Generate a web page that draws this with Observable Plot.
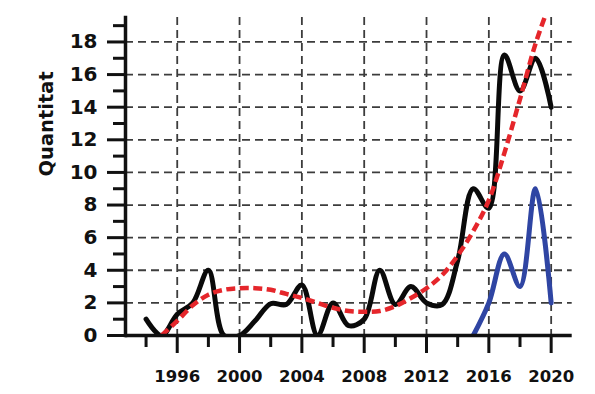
<!DOCTYPE html>
<html>
<head>
<meta charset="utf-8">
<script src="https://cdn.jsdelivr.net/npm/d3@7"></script>
<script src="https://cdn.jsdelivr.net/npm/@observablehq/plot@0.6"></script>
<style>
  html, body { margin: 0; padding: 0; background: #fff; }
  #chart { width: 595px; height: 394px; }
</style>
</head>
<body>
<div id="chart"></div>
<script>
// Total per year (black line)
const years = [1994,1995,1996,1997,1998,1999,2000,2001,2002,2003,2004,2005,2006,2007,2008,2009,2010,2011,2012,2013,2014,2015,2016,2017,2018,2019,2020];
const totalValues = [1,0,1.3,2,4,0,0,0.9,1.95,1.9,3.1,0,2,0.6,1,4,1.9,3,2,1.9,4.6,9,7.8,17.2,15,17,14];

// Second series (blue line)
const blueYears = [2015,2016,2017,2018,2019,2020];
const blueValues = [0,2,5,3,9,2];

// Trend (red dashed line)
const trendYears = [1995,1996,1997,1998,1999,2000,2001,2002,2003,2004,2005,2006,2007,2008,2009,2010,2011,2012,2013,2014,2015,2016,2017,2018,2019,2020];
const trendValues = [0,0.9,1.85,2.5,2.8,2.9,2.9,2.8,2.55,2.3,2.0,1.7,1.5,1.45,1.5,1.8,2.3,2.9,3.7,4.9,6.4,8.3,11.2,14.5,17.9,20.6];

// Ticks
const xMajor = [1996,2000,2004,2008,2012,2016,2020];
const xMinor = [1994,1998,2002,2006,2010,2014,2018];
const yMajor = [0,2,4,6,8,10,12,14,16,18];
const yMinor = [1,3,5,7,9,11,13,15,17,19];
const yLabel = "Quantitat";

const total = years.map((y, i) => ({year: y, value: totalValues[i]}));
const blue = blueYears.map((y, i) => ({year: y, value: blueValues[i]}));
const trend = trendYears.map((y, i) => ({year: y, value: trendValues[i]}));

const grid = {stroke: "#3c3c3c", strokeWidth: 1.8, strokeDasharray: "8,5"};

const chart = Plot.plot({
  width: 595,
  height: 394,
  marginLeft: 125,
  marginRight: 23.3,
  marginTop: 17,
  marginBottom: 59,
  style: {fontFamily: "DejaVu Sans", color: "#111", background: "#fff"},
  x: {domain: [1992.68, 2021.35]},
  y: {domain: [0, 19.5]},
  marks: [
    Plot.ruleY(yMajor.filter(d => d > 0), grid),
    Plot.ruleX(xMajor, grid),
    Plot.line(total, {x: "year", y: "value", curve: "catmull-rom", stroke: "#0a0a0a", strokeWidth: 5, clip: true}),
    Plot.line(blue, {x: "year", y: "value", curve: "catmull-rom", stroke: "#2f45a3", strokeWidth: 5, clip: true}),
    Plot.line(trend, {x: "year", y: "value", curve: "catmull-rom", stroke: "#e5262b", strokeWidth: 4.5, strokeDasharray: "9,4.5", strokeLinecap: "butt", clip: true}),
    Plot.axisY({ticks: yMinor, tickSize: 12, text: null, label: null, strokeWidth: 3, stroke: "#111"}),
    Plot.axisY({ticks: yMajor, tickSize: 18, tickPadding: 10, fontSize: 20, fontWeight: "bold", label: null, strokeWidth: 3, stroke: "#111", tickFormat: d => String(d)}),
    Plot.axisX({ticks: xMinor, tickSize: 12, text: null, label: null, strokeWidth: 3, stroke: "#111"}),
    Plot.axisX({ticks: xMajor, tickSize: 18, tickPadding: 17, fontSize: 16.5, fontWeight: "bold", label: null, strokeWidth: 3, stroke: "#111", tickFormat: d => String(d)}),
    Plot.ruleY([0], {stroke: "#111", strokeWidth: 3.5}),
    Plot.frame({anchor: "left", stroke: "#111", strokeWidth: 3.5}),
    Plot.text([yLabel], {frameAnchor: "left", dx: -79, rotate: -90, fontSize: 19.5, fontWeight: "bold", fill: "#111"})
  ]
});
document.getElementById("chart").appendChild(chart);
</script>
</body>
</html>
